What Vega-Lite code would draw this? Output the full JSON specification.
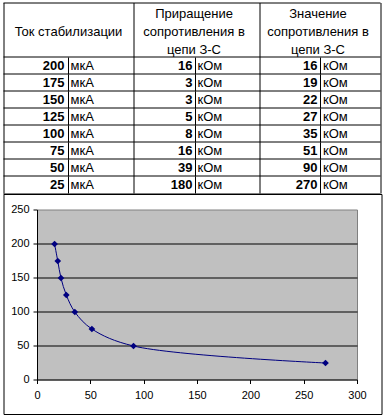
{
  "$schema": "https://vega.github.io/schema/vega-lite/v6.json",
  "padding": {"left": 0, "right": 0, "top": 3, "bottom": 4.5},
  "background": "white",
  "spacing": 0,
  "bounds": "flush",
  "center": true,
  "config": {
    "view": {"stroke": null},
    "axis": {"translate": 0},
    "font": "Liberation Sans",
    "text": {"font": "Liberation Sans", "fontSize": 13, "color": "black", "baseline": "middle"}
  },
  "datasets": {
    "table": [
      {"current": 200, "delta": 16, "value": 16},
      {"current": 175, "delta": 3, "value": 19},
      {"current": 150, "delta": 3, "value": 22},
      {"current": 125, "delta": 5, "value": 27},
      {"current": 100, "delta": 8, "value": 35},
      {"current": 75, "delta": 16, "value": 51},
      {"current": 50, "delta": 39, "value": 90},
      {"current": 25, "delta": 180, "value": 270}
    ]
  },
  "vconcat": [
    {
      "width": 385,
      "height": 190.5,
      "data": {"name": "table"},
      "layer": [
        {
          "mark": {"type": "tick", "orient": "vertical", "size": 17, "thickness": 1, "color": "black", "opacity": 1},
          "encoding": {
            "x": {
              "datum": 1, "type": "quantitative",
              "scale": {"domain": [0, 1, 2, 3, 4, 5, 6], "range": [3.5, 68.5, 133.5, 195.5, 259.5, 320.5, 380.5], "nice": false, "zero": false},
              "axis": {"values": [0, 2, 4, 6], "tickCount": 50, "grid": true, "gridColor": "black", "gridOpacity": 1, "gridWidth": 1, "domain": false, "ticks": false, "labels": false, "title": null}
            },
            "y": {
              "field": "current", "type": "quantitative",
              "scale": {"domain": [12.5, 292.647], "nice": false, "zero": false},
              "axis": {"values": [291.912, 212.5, 187.5, 162.5, 137.5, 112.5, 87.5, 62.5, 37.5, 12.5], "tickCount": 50, "grid": true, "gridColor": "black", "gridOpacity": 1, "gridWidth": 1, "domain": false, "ticks": false, "labels": false, "title": null}
            }
          }
        },
        {
          "mark": {"type": "tick", "orient": "vertical", "size": 17, "thickness": 1, "color": "black", "opacity": 1},
          "encoding": {"x": {"datum": 3, "type": "quantitative"}, "y": {"field": "current", "type": "quantitative"}}
        },
        {
          "mark": {"type": "tick", "orient": "vertical", "size": 17, "thickness": 1, "color": "black", "opacity": 1},
          "encoding": {"x": {"datum": 5, "type": "quantitative"}, "y": {"field": "current", "type": "quantitative"}}
        },
        {
          "data": {"values": [{"label": "Ток стабилизации"}]},
          "mark": {"type": "text", "align": "center"},
          "encoding": {"x": {"datum": 1, "type": "quantitative"}, "y": {"datum": 250, "type": "quantitative"}, "text": {"field": "label"}}
        },
        {
          "data": {"values": [{"label": "Приращение"}]},
          "mark": {"type": "text", "align": "center", "dx": -1.5, "lineHeight": 18, "text": ["Приращение", "сопротивления в", "цепи З-С"]},
          "encoding": {"x": {"datum": 3, "type": "quantitative"}, "y": {"datum": 276.5, "type": "quantitative"}}
        },
        {
          "data": {"values": [{"label": "Значение"}]},
          "mark": {"type": "text", "align": "center", "dx": -2.5, "lineHeight": 18, "text": ["Значение", "сопротивления в", "цепи З-С"]},
          "encoding": {"x": {"datum": 5, "type": "quantitative"}, "y": {"datum": 276.5, "type": "quantitative"}}
        },
        {
          "mark": {"type": "text", "align": "right", "dx": -4, "fontWeight": "bold"},
          "encoding": {"x": {"datum": 1, "type": "quantitative"}, "y": {"field": "current", "type": "quantitative"}, "text": {"field": "current", "type": "quantitative"}}
        },
        {
          "mark": {"type": "text", "align": "left", "dx": 2, "text": "мкА"},
          "encoding": {"x": {"datum": 1, "type": "quantitative"}, "y": {"field": "current", "type": "quantitative"}}
        },
        {
          "mark": {"type": "text", "align": "right", "dx": -3, "fontWeight": "bold"},
          "encoding": {"x": {"datum": 3, "type": "quantitative"}, "y": {"field": "current", "type": "quantitative"}, "text": {"field": "delta", "type": "quantitative"}}
        },
        {
          "mark": {"type": "text", "align": "left", "dx": 2, "text": "кОм"},
          "encoding": {"x": {"datum": 3, "type": "quantitative"}, "y": {"field": "current", "type": "quantitative"}}
        },
        {
          "mark": {"type": "text", "align": "right", "dx": -3, "fontWeight": "bold"},
          "encoding": {"x": {"datum": 5, "type": "quantitative"}, "y": {"field": "current", "type": "quantitative"}, "text": {"field": "value", "type": "quantitative"}}
        },
        {
          "mark": {"type": "text", "align": "left", "dx": 2.5, "text": "кОм"},
          "encoding": {"x": {"datum": 5, "type": "quantitative"}, "y": {"field": "current", "type": "quantitative"}}
        }
      ]
    },
    {
      "width": 378,
      "height": 220,
      "view": {"stroke": "black", "strokeWidth": 1, "fill": "white"},
      "data": {"name": "table"},
      "layer": [
        {
          "data": {"values": [{}]},
          "mark": {"type": "rect", "fill": "#C0C0C0", "stroke": "#808080", "strokeWidth": 1},
          "encoding": {
            "x": {
              "datum": 0, "type": "quantitative",
              "scale": {"domain": [0, 300], "range": [34, 354], "nice": false, "zero": false},
              "axis": {"values": [0, 50, 100, 150, 200, 250, 300], "tickCount": 50, "offset": -34, "grid": false, "domainColor": "black", "tickColor": "black", "tickSize": 4, "labelColor": "black", "labelFontSize": 11, "labelFont": "Liberation Sans", "labelPadding": 6, "labelFlush": false, "labelOverlap": false, "title": null, "zindex": 1}
            },
            "x2": {"datum": 300},
            "y": {
              "datum": 0, "type": "quantitative",
              "scale": {"domain": [0, 250], "range": [186, 16], "nice": false, "zero": false},
              "axis": {"values": [0, 50, 100, 150, 200, 250], "tickCount": 50, "offset": -34, "grid": false, "domainColor": "black", "tickColor": "black", "tickSize": 4, "labelColor": "black", "labelFontSize": 11, "labelFont": "Liberation Sans", "labelPadding": 4, "labelFlush": false, "labelOverlap": false, "title": null, "zindex": 1}
            },
            "y2": {"datum": 250}
          }
        },
        {
          "data": {"values": [{}]},
          "mark": {"type": "rule", "color": "black", "strokeWidth": 1},
          "encoding": {"x": {"datum": 0, "type": "quantitative"}, "x2": {"datum": 300}, "y": {"datum": 50, "type": "quantitative"}}
        },
        {
          "data": {"values": [{}]},
          "mark": {"type": "rule", "color": "black", "strokeWidth": 1},
          "encoding": {"x": {"datum": 0, "type": "quantitative"}, "x2": {"datum": 300}, "y": {"datum": 100, "type": "quantitative"}}
        },
        {
          "data": {"values": [{}]},
          "mark": {"type": "rule", "color": "black", "strokeWidth": 1},
          "encoding": {"x": {"datum": 0, "type": "quantitative"}, "x2": {"datum": 300}, "y": {"datum": 150, "type": "quantitative"}}
        },
        {
          "data": {"values": [{}]},
          "mark": {"type": "rule", "color": "black", "strokeWidth": 1},
          "encoding": {"x": {"datum": 0, "type": "quantitative"}, "x2": {"datum": 300}, "y": {"datum": 200, "type": "quantitative"}}
        },
        {
          "mark": {"type": "line", "color": "#000080", "strokeWidth": 1, "interpolate": "catmull-rom"},
          "encoding": {
            "x": {"field": "value", "type": "quantitative"},
            "y": {"field": "current", "type": "quantitative"},
            "order": {"field": "value", "type": "quantitative"}
          }
        },
        {
          "mark": {"type": "point", "shape": "diamond", "filled": true, "color": "#000080", "size": 45, "opacity": 1},
          "encoding": {
            "x": {"field": "value", "type": "quantitative"},
            "y": {"field": "current", "type": "quantitative"}
          }
        }
      ]
    }
  ]
}
